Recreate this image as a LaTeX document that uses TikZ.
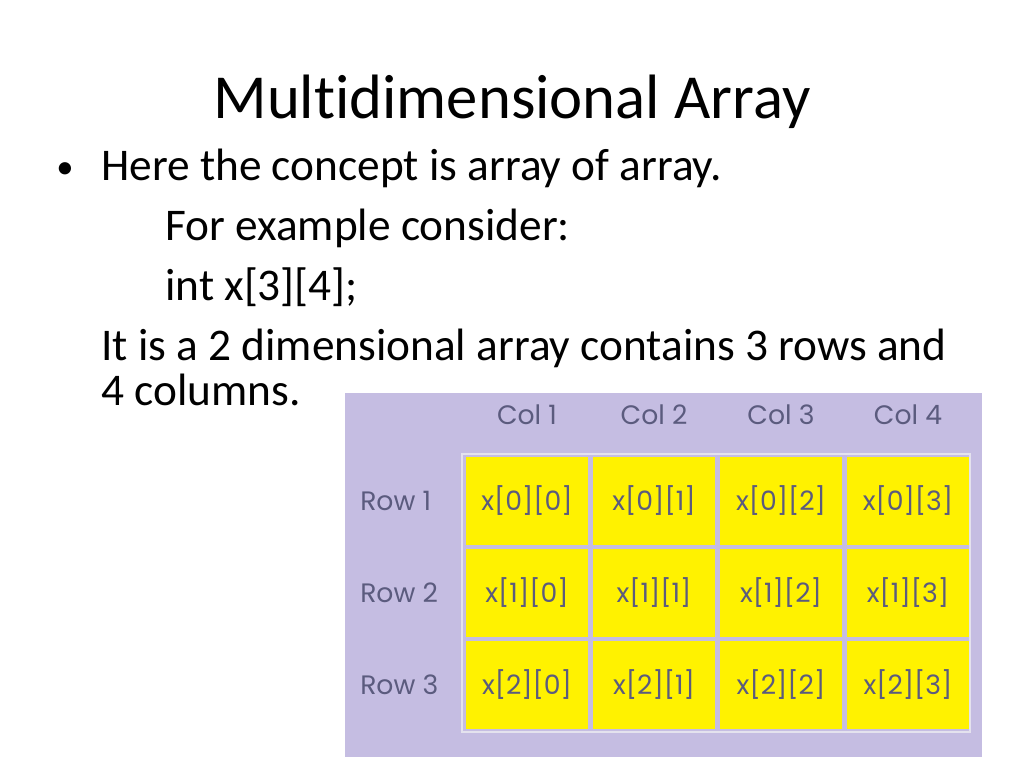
\documentclass[tikz,border=0pt]{standalone}
\usepackage{fontspec}
\setmainfont[Ligatures=NoCommon]{Carlito}
\newfontfamily\gridfont{Poppins}
\definecolor{panel}{HTML}{C5BDE2}
\definecolor{cellfill}{HTML}{FFF200}
\definecolor{gridtext}{HTML}{5B5B7E}
\definecolor{frameline}{HTML}{E4E2EE}
\tikzset{
  body/.style={anchor=base west, font=\fontsize{34}{36}\selectfont, inner sep=0},
  cell/.style={fill=cellfill, minimum width=91pt, minimum height=66pt, inner sep=0,
    font=\gridfont\fontsize{20}{22}\selectfont, text=gridtext},
  lab/.style={font=\gridfont\fontsize{20}{22}\selectfont, text=gridtext, inner sep=0}
}
\begin{document}
\begin{tikzpicture}[x=0.75pt, y=-0.75pt]
        \useasboundingbox[fill=white] (0,0) rectangle (1024,768);
        % title and text
        \node[font=\fontsize{47}{50}\selectfont, anchor=base, inner sep=0] (title) at (512,118) {Multidimensional Array};
        \node[body, font=\fontsize{26}{28}\selectfont] (bul) at (56,178) {\textbullet};
        \node[body] (l1) at (101,180) {Here the concept is array of array.};
        \node[body] (l2) at (165,240) {For example consider:};
        \node[body] (l3) at (165,300) {int x[3][4];};
        \node[body] (l4) at (101,360) {It is a 2 dimensional array contains 3 rows and};
        \node[body] (l5) at (101,405) {4 columns.};
        % array panel
        \fill[panel] (345,393) rectangle (982,757);
        \draw[frameline, line width=1.5pt] (462,454) rectangle (970,732);
        \foreach \r in {0,1,2} {
          \foreach \c in {0,1,2,3} {
            \node[cell] (c\r\c) at (527+127*\c, 501+92*\r) {x[\r][\c]};
          }
        }
        \foreach \c/\t in {0/Col 1,1/Col 2,2/Col 3,3/Col 4}
          \node[lab] (col\c) at (527+127*\c, 415) {\t};
        \foreach \r/\t in {0/Row 1,1/Row 2,2/Row 3}
          \node[lab, anchor=west] (row\r) at (360, 501+92*\r) {\t};
    \end{tikzpicture}
\end{document}
